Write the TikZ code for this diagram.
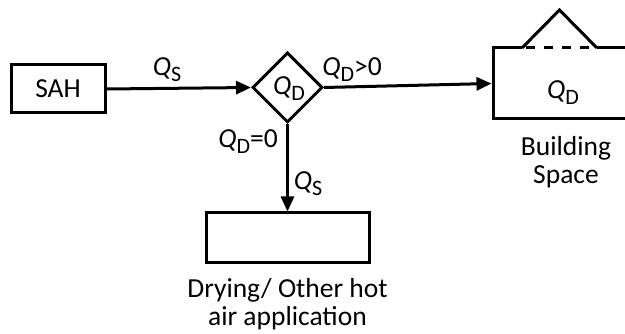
\documentclass[tikz,border=0pt]{standalone}
\usepackage{fontspec}
\setmainfont{Carlito}
\usetikzlibrary{arrows.meta,shapes.geometric}
\newcommand\qq[1]{\textit{Q}\raisebox{-6pt}{\fontsize{22}{22}\selectfont #1}}
\begin{document}
\begin{tikzpicture}[x=1pt,y=-1pt,
  line width=3pt,
  every node/.style={font=\fontsize{27.5}{27.5}\selectfont},
  box/.style={draw,rectangle,inner sep=0pt},
  flow/.style={-{Triangle[length=15pt,width=13pt]}},
  lbl/.style={inner sep=0pt}]
\useasboundingbox (0,0) rectangle (625,334);
\clip (0,0) rectangle (625,334);
\node[box,minimum width=94pt,minimum height=48pt] (sah) at (58,89) {SAH};
\node[draw,diamond,inner sep=0pt,minimum width=70pt,minimum height=70pt] (dec) at (287.5,87.5) {};
\node[lbl] (qd1) at (289,89) {\qq{D}};
\node[box,minimum width=150pt,minimum height=71pt] (bld) at (568,83.5) {};
\node[box,minimum width=163pt,minimum height=50pt] (dry) at (287.5,238) {};
\node[lbl] (qd2) at (563,93) {\qq{D}};
% roof
\coordinate (rl) at (522,48);
\coordinate (ra) at (559.5,10);
\coordinate (rr) at (597,48);
\fill[white] ([yshift=-2pt]rl) rectangle ([yshift=2pt]rr);
\draw (rl) -- (ra) -- (rr);
\draw[dash pattern=on 9pt off 9pt,dash phase=-4pt] (rl) -- (rr);
% flows
\draw[flow] (sah.east) -- (dec.west);
\draw[flow] (dec.east) -- (bld.west);
\draw[flow] (dec.south) -- (dry.north);
% labels
\node[lbl] (l1) at (167,70) {\qq{S}};
\node[lbl] (l2) at (352,70) {\qq{D}>0};
\node[lbl] (l3) at (248,142) {\qq{D}=0};
\node[lbl] (l4) at (308,184) {\qq{S}};
\node[align=center,lbl] (bt) at (566,162) {Building\\Space};
\node[align=center,lbl] (dt) at (287.5,304) {Drying/ Other hot\\air application};
\end{tikzpicture}
\end{document}
